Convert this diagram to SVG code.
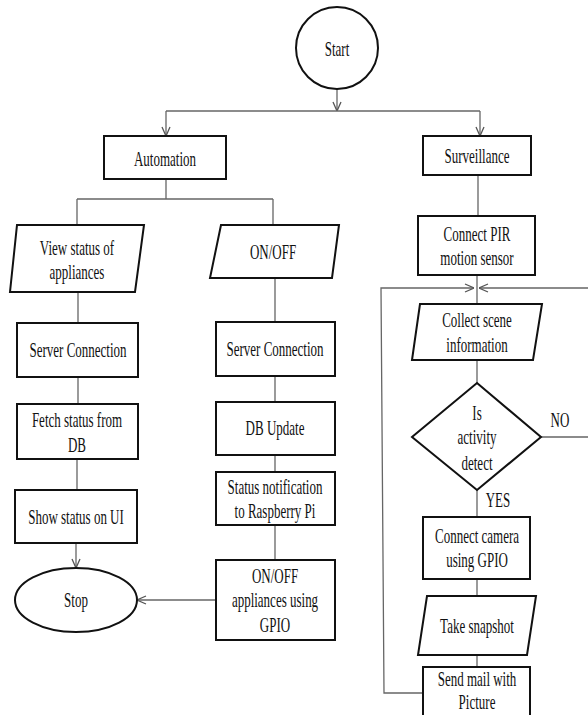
<svg xmlns="http://www.w3.org/2000/svg" width="588" height="715" viewBox="0 0 588 715">
<style>
.b{fill:#fff;stroke:#111;stroke-width:2}
.c{fill:none;stroke:#666;stroke-width:1.3}
.t{font-family:"Liberation Serif","Times New Roman",serif;font-size:20px;fill:#111;text-anchor:middle}
</style>
<defs>
<marker id="ah" viewBox="0 0 10 10" refX="10" refY="5" markerWidth="10" markerHeight="10" markerUnits="userSpaceOnUse" orient="auto">
<path d="M1,1 L10,5 L1,9" fill="none" stroke="#555" stroke-width="1.3"/>
</marker>
</defs>
<rect width="588" height="715" fill="#fff"/>
<g id="connectors">
<path class="c" d="M337,89 V111" marker-end="url(#ah)"/>
<path class="c" d="M166,111 H480"/>
<path class="c" d="M166,111 V136" marker-end="url(#ah)"/>
<path class="c" d="M480,111 V136" marker-end="url(#ah)"/>
<path class="c" d="M166,179 V199 M77,199 H273 M77,199 V226 M273,199 V226"/>
<path class="c" d="M78,292 V323 M78,377 V404 M77,459 V490"/>
<path class="c" d="M76,543 V568" marker-end="url(#ah)"/>
<path class="c" d="M275,278 V322 M275,376 V402 M275,455 V472 M275,525 V560"/>
<path class="c" d="M216,600 H137" marker-end="url(#ah)"/>
<path class="c" d="M478,175 V216 M477,275 V305 M477,360 V383 M477,490 V517 M477,579 V596 M477,655 V667"/>
<path class="c" d="M423,693 H384 L381,288 H474" marker-end="url(#ah)"/>
<path class="c" d="M541,437 H596 V288 H479" marker-end="url(#ah)"/>
</g>
<g id="start">
<circle class="b" cx="337" cy="48" r="41"/>
<text class="t" transform="matrix(.65 0 0 1 337 56)">Start</text>
</g>
<g id="automation">
<rect class="b" x="104" y="136" width="122" height="43"/>
<text class="t" transform="matrix(.65 0 0 1 165 166)">Automation</text>
</g>
<g id="surveillance">
<rect class="b" x="423" y="136" width="108" height="39"/>
<text class="t" transform="matrix(.65 0 0 1 477 163)">Surveillance</text>
</g>
<g id="view-status">
<polygon class="b" points="17,225 144,225 135,292 10,292"/>
<text class="t" transform="matrix(.65 0 0 1 77 255)">View status of</text>
<text class="t" transform="matrix(.65 0 0 1 77 279)">appliances</text>
</g>
<g id="server-connection-1">
<rect class="b" x="17" y="323" width="121" height="54"/>
<text class="t" transform="matrix(.65 0 0 1 78 357)">Server Connection</text>
</g>
<g id="fetch-status">
<rect class="b" x="17" y="404" width="121" height="55"/>
<text class="t" transform="matrix(.65 0 0 1 77 427)">Fetch status from</text>
<text class="t" transform="matrix(.65 0 0 1 77 452)">DB</text>
</g>
<g id="show-status">
<rect class="b" x="15" y="490" width="122" height="53"/>
<text class="t" transform="matrix(.65 0 0 1 76 524)">Show status on UI</text>
</g>
<g id="stop">
<ellipse class="b" cx="76" cy="600" rx="61" ry="32"/>
<text class="t" transform="matrix(.65 0 0 1 76 607)">Stop</text>
</g>
<g id="onoff">
<polygon class="b" points="221,225 339,225 332,278 210,278"/>
<text class="t" transform="matrix(.65 0 0 1 273 259)">ON/OFF</text>
</g>
<g id="server-connection-2">
<rect class="b" x="216" y="322" width="119" height="54"/>
<text class="t" transform="matrix(.65 0 0 1 275 356)">Server Connection</text>
</g>
<g id="db-update">
<rect class="b" x="216" y="402" width="119" height="53"/>
<text class="t" transform="matrix(.65 0 0 1 275 435)">DB Update</text>
</g>
<g id="status-notification">
<rect class="b" x="216" y="472" width="119" height="53"/>
<text class="t" transform="matrix(.65 0 0 1 275 494)">Status notification</text>
<text class="t" transform="matrix(.65 0 0 1 275 518)">to Raspberry Pi</text>
</g>
<g id="onoff-appliances">
<rect class="b" x="216" y="560" width="119" height="80"/>
<text class="t" transform="matrix(.65 0 0 1 275 583)">ON/OFF</text>
<text class="t" transform="matrix(.65 0 0 1 275 607)">appliances using</text>
<text class="t" transform="matrix(.65 0 0 1 275 632)">GPIO</text>
</g>
<g id="connect-pir">
<rect class="b" x="418" y="216" width="117" height="59"/>
<text class="t" transform="matrix(.65 0 0 1 477 241)">Connect PIR</text>
<text class="t" transform="matrix(.65 0 0 1 477 265)">motion sensor</text>
</g>
<g id="collect-scene">
<polygon class="b" points="420,304 542,304 533,360 412,360"/>
<text class="t" transform="matrix(.65 0 0 1 477 327)">Collect scene</text>
<text class="t" transform="matrix(.65 0 0 1 477 352)">information</text>
</g>
<g id="decision">
<polygon class="b" points="477,383 541,437 477,490 412,437"/>
<text class="t" transform="matrix(.65 0 0 1 477 420)">Is</text>
<text class="t" transform="matrix(.65 0 0 1 477 444)">activity</text>
<text class="t" transform="matrix(.65 0 0 1 477 470)">detect</text>
<text class="t" transform="matrix(.65 0 0 1 560 427)">NO</text>
<text class="t" transform="matrix(.65 0 0 1 498 507)">YES</text>
</g>
<g id="connect-camera">
<rect class="b" x="423" y="517" width="107" height="62"/>
<text class="t" transform="matrix(.65 0 0 1 477 543)">Connect camera</text>
<text class="t" transform="matrix(.65 0 0 1 477 567)">using GPIO</text>
</g>
<g id="take-snapshot">
<polygon class="b" points="427,596 536,596 527,655 418,655"/>
<text class="t" transform="matrix(.65 0 0 1 477 633)">Take snapshot</text>
</g>
<g id="send-mail">
<rect class="b" x="423" y="667" width="107" height="60"/>
<text class="t" transform="matrix(.65 0 0 1 477 686)">Send mail  with</text>
<text class="t" transform="matrix(.65 0 0 1 477 709)">Picture</text>
</g>
</svg>
